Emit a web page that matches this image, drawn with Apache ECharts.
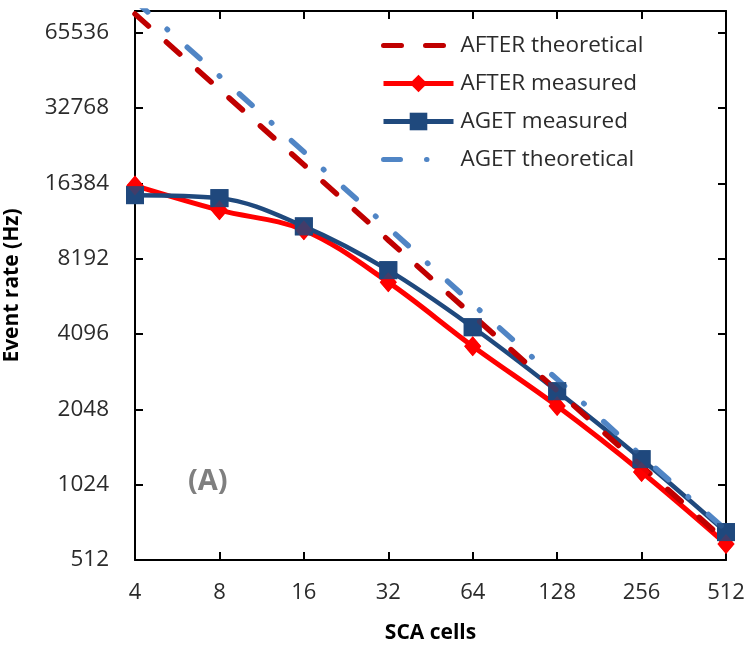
<!DOCTYPE html>
<html>
<head>
<meta charset="utf-8">
<script src="https://cdn.jsdelivr.net/npm/echarts@6/dist/echarts.min.js"></script>
<style>
  html, body { margin: 0; padding: 0; background: #fff; }
  #chart { width: 749px; height: 648px; }
</style>
</head>
<body>
<div id="chart"></div>
<script>
// SCA cell counts (x, log2 scale)
const cells = [4, 8, 16, 32, 64, 128, 256, 512];
// Event rates in Hz
const afterTheoretical = [77800, 38900, 19450, 9720, 4860, 2430, 1215, 608];
const afterMeasured    = [16050, 12800, 10650, 6600, 3660, 2110, 1150, 593];
const agetMeasured     = [14700, 14300, 11030, 7370, 4360, 2420, 1295, 662];
const agetTheoretical  = [88000, 44000, 21900, 10900, 5400, 2700, 1335, 675];
// Axis ranges
const xMin = 4, xMax = 512;
const yMin = 512, yMax = 80000;

const FONT = '"Open Sans", "Liberation Sans", sans-serif';
const TEXT = '#2b2b2b';

const pairs = (vals) => cells.map((c, i) => [c, vals[i]]);

const chart = echarts.init(document.getElementById('chart'), null, { renderer: 'canvas' });

const tickStyle = { inside: true, length: 8, lineStyle: { color: '#000', width: 2 } };
const lineStyleAxis = { show: true, onZero: false, lineStyle: { color: '#000', width: 2 } };
const plainNumber = (v) => String(Math.round(v));

const option = {
  animation: false,
  textStyle: { fontFamily: FONT },
  grid: { left: 135, right: 23, top: 11, bottom: 88, containLabel: false, outerBoundsMode: 'none' },
  legend: {
    orient: 'vertical',
    left: 376,
    top: 29,
    itemWidth: 70,
    itemHeight: 22,
    itemGap: 15,
    lineStyle: { width: 5 },
    textStyle: { fontFamily: FONT, fontSize: 22.5, color: TEXT, padding: [0, 0, 0, 2] },
    data: [
      { name: 'AFTER theoretical', itemStyle: { opacity: 0 } },
      { name: 'AFTER measured' },
      { name: 'AGET measured' },
      { name: 'AGET theoretical', itemStyle: { opacity: 0 } }
    ]
  },
  xAxis: [{
    type: 'log', logBase: 2, min: xMin, max: xMax,
    axisLine: lineStyleAxis,
    axisTick: tickStyle,
    splitLine: { show: false },
    axisLabel: { fontFamily: FONT, fontSize: 22, color: TEXT, margin: 22, formatter: plainNumber },
    name: 'SCA cells', nameLocation: 'middle', nameGap: 63,
    nameTextStyle: { fontFamily: FONT, fontSize: 21, fontWeight: 'bold', color: '#000' }
  }, {
    type: 'log', logBase: 2, min: xMin, max: xMax, position: 'top',
    axisLine: lineStyleAxis,
    axisTick: tickStyle,
    splitLine: { show: false },
    axisLabel: { show: false }
  }],
  yAxis: [{
    type: 'log', logBase: 2, min: yMin, max: yMax,
    axisLine: lineStyleAxis,
    axisTick: tickStyle,
    splitLine: { show: false },
    axisLabel: { fontFamily: FONT, fontSize: 22.5, color: TEXT, margin: 26, showMaxLabel: false, formatter: plainNumber },
    name: 'Event rate (Hz)', nameLocation: 'middle', nameRotate: 90, nameGap: 112,
    nameTextStyle: { fontFamily: FONT, fontSize: 21, fontWeight: 'bold', color: '#000' }
  }, {
    type: 'log', logBase: 2, min: yMin, max: yMax, position: 'right',
    axisLine: lineStyleAxis,
    axisTick: tickStyle,
    splitLine: { show: false },
    axisLabel: { show: false }
  }],
  graphic: [{
    type: 'text', left: 188, top: 467,
    style: { text: '(A)', font: 'bold 29px ' + FONT, fill: '#7f7f7f' }
  }],
  series: [
    {
      name: 'AFTER measured', type: 'line', z: 2,
      data: pairs(afterMeasured), smooth: 0.35,
      symbol: 'diamond', symbolSize: [17, 20],
      lineStyle: { color: '#ff0000', width: 5 },
      itemStyle: { color: '#ff0000' }
    },
    {
      name: 'AGET measured', type: 'line', z: 2,
      data: pairs(agetMeasured), smooth: 0.35,
      symbol: 'rect', symbolSize: 18,
      lineStyle: { color: '#1f497d', width: 4.5 },
      itemStyle: { color: '#1f497d' }
    },
    {
      name: 'AFTER theoretical', type: 'line', z: 3, clip: true,
      data: pairs(afterTheoretical), symbol: 'none',
      lineStyle: { color: '#c00000', width: 5.5, type: [18, 24], cap: 'round' },
      itemStyle: { color: '#c00000' }
    },
    {
      name: 'AGET theoretical', type: 'line', z: 3, clip: true,
      data: pairs(agetTheoretical), symbol: 'none',
      lineStyle: { color: '#5085c5', width: 5.5, type: [17, 26, 0.5, 26.5], cap: 'round' },
      itemStyle: { color: '#5085c5' }
    },
    // marker overlays so the symbols sit above every line
    {
      name: 'after-markers', type: 'scatter', z: 4,
      data: pairs(afterMeasured), symbol: 'diamond', symbolSize: [17, 20],
      itemStyle: { color: '#ff0000' }, silent: true
    },
    {
      name: 'aget-markers', type: 'scatter', z: 4,
      data: pairs(agetMeasured), symbol: 'rect', symbolSize: 18,
      itemStyle: { color: '#1f497d' }, silent: true
    }
  ]
};

chart.setOption(option);
</script>
</body>
</html>
